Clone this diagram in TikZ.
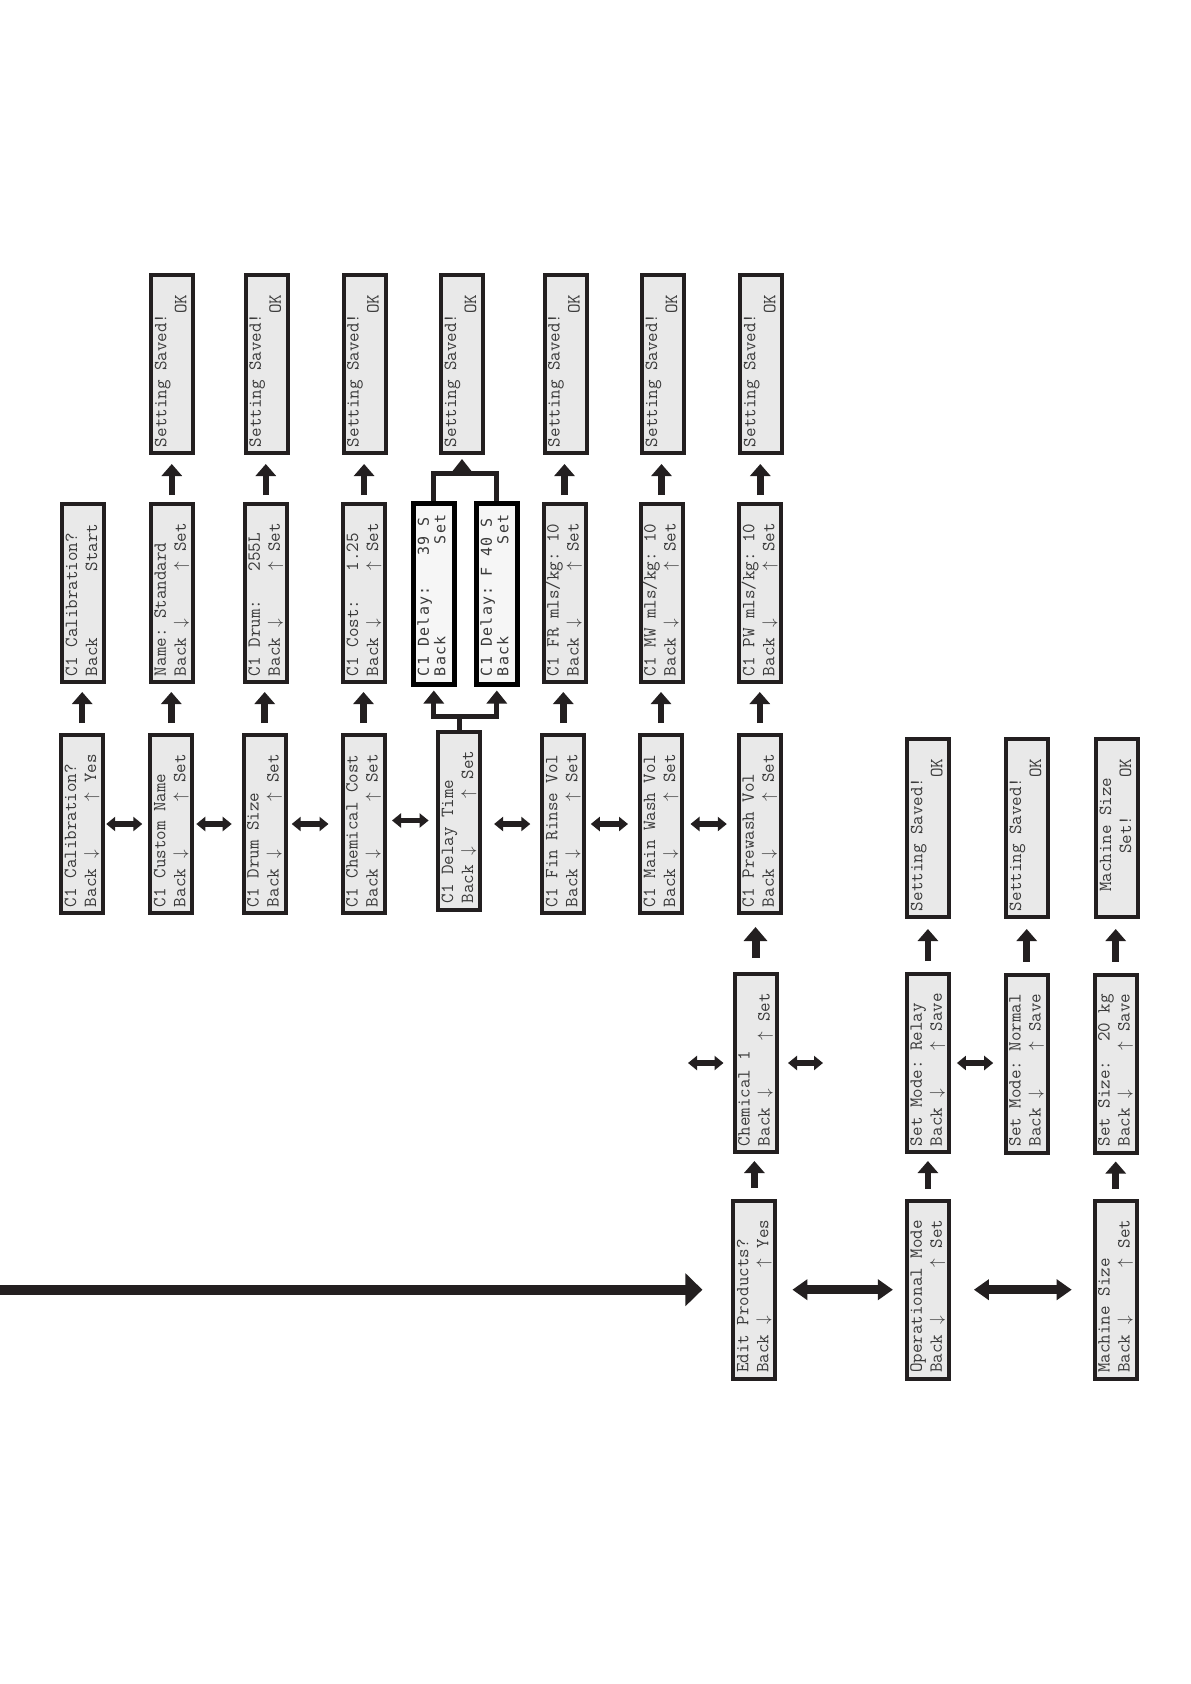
\documentclass[tikz,border=0pt]{standalone}
\usepackage{fontspec}
\usepackage{graphicx}
\newfontfamily\dotfont{DejaVu Sans Mono}[LetterSpace=8]
\usetikzlibrary{arrows.meta,calc}
\definecolor{ink}{HTML}{231F20}
\definecolor{lcdfill}{HTML}{E9E9E9}
\definecolor{lcdfillb}{HTML}{F6F6F6}
\definecolor{txt}{HTML}{3A3A3A}
\newcommand\dn{\makebox[0.525em]{$\downarrow$}}
\newcommand\upa{\makebox[0.525em]{$\uparrow$}}
\newcommand\lcd[2]{\rotatebox{90}{\parbox{166pt}{\fontsize{18.5}{20}\selectfont\ttfamily\raggedright\strut#1\\\strut#2}}}
\newcommand\dlcd[2]{\rotatebox{90}{\parbox{164pt}{\fontsize{15}{16.5}\selectfont\dotfont\raggedright\strut#1\\\strut#2}}}
\newcommand\saved{\lcd{Setting~Saved!}{~~~~~~~~~~~~~~OK}}
\tikzset{
  lcdbox/.style={draw=ink, line width=4pt, fill=lcdfill, minimum width=42pt, minimum height=178pt, inner sep=0pt, text=txt},
  dotbox/.style={draw=black, line width=5pt, fill=lcdfillb, minimum width=41pt, minimum height=181pt, inner sep=0pt, text=txt},
  uparr/.style={draw=ink, line width=6.5pt, -{Triangle[width=20pt,length=12pt]}},
  fatarr/.style={draw=ink, line width=8pt, -{Triangle[width=23pt,length=14pt]}},
  brarr/.style={draw=ink, line width=5pt, line join=miter, -{Triangle[width=20pt,length=13pt]}},
  bline/.style={draw=ink, line width=5pt, line join=miter},
  dbl/.style={draw=ink, line width=5.5pt, {Triangle[width=14pt,length=9pt]}-{Triangle[width=14pt,length=9pt]}},
  bigdbl/.style={draw=ink, line width=8.5pt, {Triangle[width=20pt,length=15pt]}-{Triangle[width=20pt,length=15pt]}},
  bigarr/.style={draw=ink, line width=10pt, -{Triangle[width=32pt,length=17pt]}}
}
\begin{document}
\begin{tikzpicture}[x=1pt,y=-1pt]
\fill[white] (0,0) rectangle (1191,1684);
\useasboundingbox (0,0) rectangle (1191,1684);

% main row
\node[lcdbox] (m1) at (82.2,824) {\lcd{C1~Calibration?}{Back~\dn~~~~~\upa~Yes}};
\node[lcdbox] (m2) at (171.3,824) {\lcd{C1~Custom~Name}{Back~\dn~~~~~\upa~Set}};
\node[lcdbox] (m3) at (264.7,824) {\lcd{C1~Drum~Size}{Back~\dn~~~~~\upa~Set}};
\node[lcdbox] (m4) at (363.5,824) {\lcd{C1~Chemical~Cost}{Back~\dn~~~~~\upa~Set}};
\node[lcdbox] (m5) at (459.1,820.5) {\lcd{C1~Delay~Time}{Back~\dn~~~~~\upa~Set}};
\node[lcdbox] (m6) at (563.3,824) {\lcd{C1~Fin~Rinse~Vol}{Back~\dn~~~~~\upa~Set}};
\node[lcdbox] (m7) at (661,824) {\lcd{C1~Main~Wash~Vol}{Back~\dn~~~~~\upa~Set}};
\node[lcdbox] (m8) at (759.8,824) {\lcd{C1~Prewash~Vol}{Back~\dn~~~~~\upa~Set}};

% sub row
\node[lcdbox] (s1) at (83.2,593) {\lcd{C1~Calibration?}{Back~~~~~~~Start}};
\node[lcdbox] (s2) at (171.8,593) {\lcd{Name:~Standard}{Back~\dn~~~~~\upa~Set}};
\node[lcdbox] (s3) at (265.8,593) {\lcd{C1~Drum:~~~255L}{Back~\dn~~~~~\upa~Set}};
\node[lcdbox] (s4) at (364.1,593) {\lcd{C1~Cost:~~~1.25}{Back~\dn~~~~~\upa~Set}};
\node[dotbox] (d1) at (433.8,594) {\dlcd{C1~Delay:~~~39~S}{Back~~~~~~~~~Set}};
\node[dotbox] (d2) at (496.8,594) {\dlcd{C1~Delay:~F~40~S}{Back~~~~~~~~~Set}};
\node[lcdbox] (s6) at (564.5,593) {\lcd{C1~FR~mls/kg:~10}{Back~\dn~~~~~\upa~Set}};
\node[lcdbox] (s7) at (661.5,593) {\lcd{C1~MW~mls/kg:~10}{Back~\dn~~~~~\upa~Set}};
\node[lcdbox] (s8) at (760.3,593) {\lcd{C1~PW~mls/kg:~10}{Back~\dn~~~~~\upa~Set}};

% saved row
\node[lcdbox] (v2) at (172.4,364) {\saved};
\node[lcdbox] (v3) at (266.8,364) {\saved};
\node[lcdbox] (v4) at (364.6,364) {\saved};
\node[lcdbox] (v5) at (462,364) {\saved};
\node[lcdbox] (v6) at (565.6,364) {\saved};
\node[lcdbox] (v7) at (663.1,364) {\saved};
\node[lcdbox] (v8) at (761.3,364) {\saved};

% bottom section
\node[lcdbox] (edit) at (754.4,1289.7) {\lcd{Edit~Products?}{Back~\dn~~~~~\upa~Yes}};
\node[lcdbox] (chem) at (755.5,1063) {\lcd{Chemical~1}{Back~\dn~~~~~\upa~Set}};
\node[lcdbox] (oper) at (927.9,1289.7) {\lcd{Operational~Mode}{Back~\dn~~~~~\upa~Set}};
\node[lcdbox] (relay) at (927.9,1063) {\lcd{Set~Mode:~Relay}{Back~\dn~~~~\upa~Save}};
\node[lcdbox] (svr) at (928.4,828) {\saved};
\node[lcdbox] (norm) at (1026.7,1063.5) {\lcd{Set~Mode:~Normal}{Back~\dn~~~~\upa~Save}};
\node[lcdbox] (svn) at (1027,828) {\saved};
\node[lcdbox] (mach) at (1115.7,1289.7) {\lcd{Machine~Size}{Back~\dn~~~~~\upa~Set}};
\node[lcdbox] (size) at (1115.7,1063.5) {\lcd{Set~Size:~~20~kg}{Back~\dn~~~~\upa~Save}};
\node[lcdbox] (svm) at (1117,828) {\lcd{~~Machine~Size}{~~~~~~Set!~~~~OK}};

% main row double arrows
\draw[dbl, shorten <=1pt, shorten >=6pt] (m1.east) -- (m2.west);
\draw[dbl, shorten <=2pt, shorten >=10pt] (m2.east) -- (m3.west);
\draw[dbl, shorten <=4pt, shorten >=12pt] (m3.east) -- (m4.west);
\draw[dbl, shorten <=5.5pt, shorten >=7.5pt] (m4.east |- m5.west) -- (m5.west);
\draw[dbl, shorten <=12pt, shorten >=10pt] (m5.east |- m6.west) -- (m6.west);
\draw[dbl, shorten <=4.5pt, shorten >=10pt] (m6.east) -- (m7.west);
\draw[dbl, shorten <=6.5pt, shorten >=10pt] (m7.east) -- (m8.west);

% main -> sub arrows
\foreach \a/\b in {m1/s1,m2/s2,m3/s3,m4/s4,m6/s6,m7/s7,m8/s8}
  \draw[uparr, shorten <=10pt, shorten >=8pt] (\a.north) -- (\a.north |- \b.south);
% sub -> saved arrows
\foreach \a/\b in {s2/v2,s3/v3,s4/v4,s6/v6,s7/v7,s8/v8}
  \draw[uparr, shorten <=7pt, shorten >=9pt] (\a.north) -- (\a.north |- \b.south);

% delay brackets
\coordinate (bl) at ($(m5.north)+(0,-13)$);
\draw[bline] (m5.north) -- (bl);
\draw[brarr, shorten >=3.5pt] (bl) -| (d1.south);
\draw[brarr, shorten >=3.5pt] (bl) -| (d2.south);
\coordinate (tl) at ($(d1.north)+(0,-27.5)$);
\draw[bline] (d1.north) -- (d1.north |- tl) -- (d2.north |- tl) -- (d2.north);
\draw[draw=ink, line width=5pt, -{Triangle[width=18pt,length=12pt]}, shorten >=4pt] (v5.south |- tl) -- (v5.south);

% long arrow
\coordinate (origin) at (0,1289.7);
\draw[bigarr, shorten >=29pt] (origin) -- (edit.west);

% bottom double arrows
\draw[bigdbl, shorten <=15pt, shorten >=12pt] (edit.east) -- (oper.west);
\draw[bigdbl, shorten <=23pt, shorten >=21pt] (oper.east) -- (mach.west);
\coordinate (cl1) at ($(chem.west)+(-44.5,0)$);
\coordinate (cl2) at ($(chem.west)+(-9,0)$);
\coordinate (cr1) at ($(chem.east)+(9.5,0)$);
\coordinate (cr2) at ($(chem.east)+(44.5,0)$);
\draw[dbl] (cl1) -- (cl2);
\draw[dbl] (cr1) -- (cr2);
\draw[dbl, shorten <=6pt, shorten >=10.5pt] (relay.east) -- (relay.east -| norm.west);

% bottom up arrows
\draw[uparr, shorten <=11pt, shorten >=7pt] (edit.north) -- (edit.north |- chem.south);
\draw[fatarr, shorten <=14pt, shorten >=12pt] (chem.north) -- (chem.north |- m8.south);
\draw[uparr, shorten <=10pt, shorten >=7pt] (oper.north) -- (oper.north |- relay.south);
\draw[uparr, shorten <=11pt, shorten >=10pt] (relay.north) -- (relay.north |- svr.south);
\draw[uparr, shorten <=11pt, shorten >=10pt] (norm.north) -- (norm.north |- svn.south);
\draw[uparr, shorten <=10pt, shorten >=7pt] (mach.north) -- (mach.north |- size.south);
\draw[uparr, shorten <=11pt, shorten >=10pt] (size.north) -- (size.north |- svm.south);
\end{tikzpicture}
\end{document}
